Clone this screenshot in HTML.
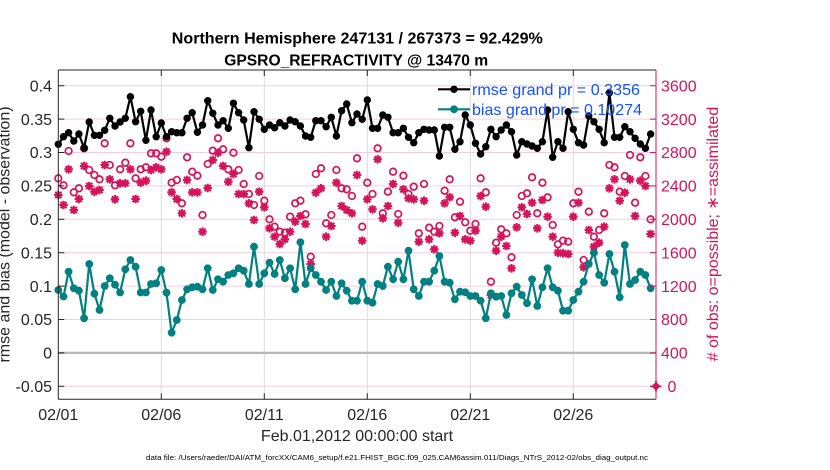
<!DOCTYPE html>
<html><head><meta charset="utf-8"><style>
html,body{margin:0;padding:0;background:#fff;}
svg{display:block;font-family:"Liberation Sans",Arial,sans-serif;}
</style></head><body>
<svg width="830" height="470" viewBox="0 0 830 470" xmlns="http://www.w3.org/2000/svg">
<defs>
<marker id="mb" markerUnits="userSpaceOnUse" viewBox="-6 -6 12 12" markerWidth="12" markerHeight="12" refX="0" refY="0" overflow="visible"><circle r="3.7" fill="#000"/></marker>
<marker id="mt" markerUnits="userSpaceOnUse" viewBox="-6 -6 12 12" markerWidth="12" markerHeight="12" refX="0" refY="0" overflow="visible"><circle r="3.9" fill="#008080"/></marker>
<marker id="mc" markerUnits="userSpaceOnUse" viewBox="-6 -6 12 12" markerWidth="12" markerHeight="12" refX="0" refY="0" overflow="visible"><circle r="3.3" fill="none" stroke="#d4145a" stroke-width="1.7"/></marker>
<marker id="ma" markerUnits="userSpaceOnUse" viewBox="-6 -6 12 12" markerWidth="12" markerHeight="12" refX="0" refY="0" overflow="visible"><path d="M-4.3,0H4.3M0,-4.3V4.3M-3.1,-3.1L3.1,3.1M-3.1,3.1L3.1,-3.1" stroke="#d4145a" stroke-width="2.1" fill="none"/></marker>
</defs>

<!-- horizontal grid (pink) -->
<g stroke="#f6cddd" stroke-width="1">
<line x1="58.3" y1="386.3" x2="656" y2="386.3"/>
<line x1="58.3" y1="319.5" x2="656" y2="319.5"/>
<line x1="58.3" y1="286.1" x2="656" y2="286.1"/>
<line x1="58.3" y1="252.7" x2="656" y2="252.7"/>
<line x1="58.3" y1="219.3" x2="656" y2="219.3"/>
<line x1="58.3" y1="185.9" x2="656" y2="185.9"/>
<line x1="58.3" y1="152.5" x2="656" y2="152.5"/>
<line x1="58.3" y1="119.1" x2="656" y2="119.1"/>
<line x1="58.3" y1="85.7" x2="656" y2="85.7"/>
</g>
<!-- vertical grid -->
<g stroke="#dadada" stroke-width="1">
<line x1="161.3" y1="70" x2="161.3" y2="399.3"/>
<line x1="264.3" y1="70" x2="264.3" y2="399.3"/>
<line x1="367.3" y1="70" x2="367.3" y2="399.3"/>
<line x1="470.3" y1="70" x2="470.3" y2="399.3"/>
<line x1="573.3" y1="70" x2="573.3" y2="399.3"/>
</g>
<!-- zero line -->
<line x1="58.3" y1="352.9" x2="656" y2="352.9" stroke="#b8b8b8" stroke-width="2.2"/>

<!-- possible (circles) -->
<polyline fill="none" stroke="none" marker-start="url(#mc)" marker-mid="url(#mc)" marker-end="url(#mc)" points="58.3,178.3 63.5,185.3 68.6,151 73.8,192.3 78.9,188.3 84.1,148.3 89.2,170 94.4,175 99.5,179.3 104.7,143.3 109.8,165 115,185.3 120.1,169.3 125.3,162.7 130.4,143.3 135.6,178.3 140.7,169.3 145.9,167.3 151,153.3 156.2,153.3 161.3,156.7 166.5,138.3 171.6,182.7 176.8,180 181.9,203.3 187.1,157.3 192.2,171.7 197.4,175.7 202.5,215 207.7,164 212.8,150.7 218,138.3 223.1,149.3 228.3,169.3 233.4,152.7 238.6,170 243.7,184 248.9,194 254,205 259.2,176 264.3,200.7 269.5,219.3 274.6,226.7 279.8,231.7 284.9,232.7 290.1,216.7 295.2,203.3 300.4,200.7 305.5,214.3 310.7,256.7 315.8,174 321,168.3 326.1,223.3 331.3,215 336.4,170 341.6,188.3 346.7,189.3 351.9,196 357,158.3 362.2,226.7 367.3,182.7 372.5,194 377.6,148.3 382.8,213.3 387.9,191.7 393.1,171.7 398.2,214 403.4,175.7 408.5,194 413.7,186.7 418.8,233.3 424,184 429.1,227.7 434.3,231.7 439.4,226 444.6,190.7 449.7,179.3 454.9,217.3 460,201.7 465.2,222.3 470.3,230.7 475.5,224 480.6,178.3 485.8,192.3 490.9,281.7 496.1,242.7 501.2,229.3 506.4,233.3 511.5,257.3 516.7,215 521.8,196 527,193.3 532.1,177.3 537.3,213.3 542.4,182.7 547.6,197.3 552.7,225 557.9,244.3 563,240.7 568.2,241.7 573.3,203.3 578.5,191.7 583.6,260 588.8,211.7 593.9,236.7 599.1,230 604.2,213.3 609.4,165 614.5,167.3 619.7,191.7 624.8,176 630,155 635.1,202.7 640.3,157.3 645.4,176 650.6,219.3"/>

<!-- assimilated (asterisks) -->
<polyline fill="none" stroke="none" marker-start="url(#ma)" marker-mid="url(#ma)" marker-end="url(#ma)" points="58.3,195 63.5,205 68.6,169.3 73.8,210 78.9,199 84.1,166 89.2,186 94.4,191.7 99.5,190 104.7,165 109.8,179.3 115,199.3 120.1,183.3 125.3,183.3 130.4,169.3 135.6,199 140.7,182.7 145.9,180.7 151,170 156.2,167.3 161.3,169.3 166.5,151.7 171.6,192.3 176.8,199 181.9,213.3 187.1,180 192.2,192.3 197.4,192.3 202.5,231.7 207.7,188 212.8,160 218,152.7 223.1,166 228.3,181.7 233.4,174 238.6,194 243.7,194 248.9,203.3 254,220 259.2,191.7 264.3,207.3 269.5,228.3 274.6,236.7 279.8,244 284.9,239.3 290.1,231.7 295.2,221.7 300.4,216 305.5,224 310.7,264 315.8,192.7 321,188.3 326.1,236.7 331.3,226 336.4,182.7 341.6,206 346.7,210 351.9,213.3 357,175 362.2,240.7 367.3,199.3 372.5,209.3 377.6,159.3 382.8,218.3 387.9,206 393.1,184 398.2,222.7 403.4,189.3 408.5,198.3 413.7,199.3 418.8,241.7 424,200.7 429.1,239.3 434.3,249.3 439.4,233.3 444.6,203.3 449.7,197.3 454.9,232.7 460,216 465.2,239.3 470.3,240.7 475.5,230.7 480.6,196 485.8,206.7 490.9,295 496.1,250.7 501.2,236.7 506.4,246 511.5,268.3 516.7,227.3 521.8,207.3 527,214 532.1,202.7 537.3,228.3 542.4,200 547.6,216.7 552.7,236.7 557.9,252.7 563,253.3 568.2,254 573.3,216.7 578.5,202.7 583.6,267.3 588.8,230 593.9,246.7 599.1,242.7 604.2,226.7 609.4,188.3 614.5,179.3 619.7,200.7 624.8,192.7 630,179.3 635.1,216 640.3,180.7 645.4,186 650.6,234"/>

<!-- bias (teal) -->
<polyline fill="none" stroke="#008080" stroke-width="2.2" stroke-linejoin="round" marker-start="url(#mt)" marker-mid="url(#mt)" marker-end="url(#mt)" points="58.3,290 63.5,296.5 68.6,271.7 73.8,288.3 78.9,290.7 84.1,318.3 89.2,264 94.4,293.7 99.5,310 104.7,286 109.8,278.3 115,284.7 120.1,292.5 125.3,269.3 130.4,260 135.6,266.7 140.7,292.5 145.9,292.5 151,284 156.2,283.3 161.3,270 166.5,292.7 171.6,332.7 176.8,320 181.9,300 187.1,289.3 192.2,287.3 197.4,286.7 202.5,289.3 207.7,268.3 212.8,290 218,279.3 223.1,281.7 228.3,275 233.4,273.3 238.6,268.3 243.7,270.7 248.9,284 254,246.7 259.2,284 264.3,273.3 269.5,262.7 274.6,274 279.8,260 284.9,278.3 290.1,268.3 295.2,289.3 300.4,242.3 305.5,284 310.7,268.3 315.8,275 321,281.7 326.1,290 331.3,281.7 336.4,296 341.6,283.3 346.7,290.7 351.9,300.7 357,300.7 362.2,281.7 367.3,300.7 372.5,302.7 377.6,284 382.8,286 387.9,266.7 393.1,279.3 398.2,261.7 403.4,279.3 408.5,250.7 413.7,289.3 418.8,296 424,281.7 429.1,281.7 434.3,270.7 439.4,256 444.6,281.7 449.7,282.7 454.9,299.3 460,291.7 465.2,292.3 470.3,296 475.5,296 480.6,300.7 485.8,318.3 490.9,293.3 496.1,296.7 501.2,296 506.4,315 511.5,293.3 516.7,286.7 521.8,295 527,303.3 532.1,279.3 537.3,306 542.4,287.3 547.6,268.3 552.7,287.3 557.9,290.7 563,310.7 568.2,310.7 573.3,300 578.5,291.7 583.6,281.7 588.8,264 593.9,252.7 599.1,275 604.2,282.7 609.4,254 614.5,271.7 619.7,297.3 624.8,245 630,284 635.1,280 640.3,271.7 645.4,275 650.6,288.3"/>

<!-- rmse (black) -->
<polyline fill="none" stroke="#000" stroke-width="2.2" stroke-linejoin="round" marker-start="url(#mb)" marker-mid="url(#mb)" marker-end="url(#mb)" points="58.3,144.3 63.5,136.7 68.6,132.7 73.8,141 78.9,134 84.1,148 89.2,122 94.4,135.3 99.5,135.3 104.7,130.3 109.8,118.3 115,126 120.1,122 125.3,118.3 130.4,96.7 135.6,121.7 140.7,111.3 145.9,140.3 151,110 156.2,136.7 161.3,123 166.5,136.7 171.6,131.7 176.8,132.7 181.9,132.7 187.1,118.3 192.2,112.7 197.4,132.3 202.5,125 207.7,100.7 212.8,113.3 218,125 223.1,120.7 228.3,128.3 233.4,103.3 238.6,112.7 243.7,120 248.9,147.7 254,111.7 259.2,119.3 264.3,129.3 269.5,125 274.6,127.7 279.8,122.7 284.9,126 290.1,120 295.2,121.7 300.4,126 305.5,136 310.7,137.3 315.8,120.7 321,120.7 326.1,126.7 331.3,117.3 336.4,136 341.6,110.7 346.7,104 351.9,122.7 357,114 362.2,119.3 367.3,100 372.5,128.3 377.6,128.3 382.8,115 387.9,117.3 393.1,132.7 398.2,132.7 403.4,128.3 408.5,137.3 413.7,142.7 418.8,132.7 424,129.3 429.1,130 434.3,130 439.4,156 444.6,127.3 449.7,127.3 454.9,149.3 460,141.7 465.2,115 470.3,125 475.5,143.3 480.6,154 485.8,146.7 490.9,129.3 496.1,136.7 501.2,130 506.4,125 511.5,131.7 516.7,155 521.8,141.7 527,144 532.1,146 537.3,148.3 542.4,141.7 547.6,110 552.7,157.3 557.9,141.7 563,148.3 568.2,111.7 573.3,129.3 578.5,142.7 583.6,145 588.8,116 593.9,121.7 599.1,129.3 604.2,142.7 609.4,92.7 614.5,137.3 619.7,137.3 624.8,126.7 630,131.7 635.1,138.3 640.3,144 645.4,148.3 650.6,134"/>

<!-- axes -->
<line x1="58.3" y1="70" x2="656" y2="70" stroke="#262626" stroke-width="1"/>
<line x1="58.3" y1="399.3" x2="656" y2="399.3" stroke="#262626" stroke-width="1"/>
<line x1="58.3" y1="70" x2="58.3" y2="399.3" stroke="#262626" stroke-width="1"/>
<line x1="656" y1="70" x2="656" y2="399.3" stroke="#d4145a" stroke-width="1"/>
<!-- left ticks -->
<g stroke="#262626" stroke-width="1">
<line x1="58.3" y1="386.3" x2="64.3" y2="386.3"/><line x1="58.3" y1="352.9" x2="64.3" y2="352.9"/>
<line x1="58.3" y1="319.5" x2="64.3" y2="319.5"/><line x1="58.3" y1="286.1" x2="64.3" y2="286.1"/>
<line x1="58.3" y1="252.7" x2="64.3" y2="252.7"/><line x1="58.3" y1="219.3" x2="64.3" y2="219.3"/>
<line x1="58.3" y1="185.9" x2="64.3" y2="185.9"/><line x1="58.3" y1="152.5" x2="64.3" y2="152.5"/>
<line x1="58.3" y1="119.1" x2="64.3" y2="119.1"/><line x1="58.3" y1="85.7" x2="64.3" y2="85.7"/>
<!-- bottom/top ticks -->
<line x1="161.3" y1="399.3" x2="161.3" y2="393.3"/><line x1="264.3" y1="399.3" x2="264.3" y2="393.3"/>
<line x1="367.3" y1="399.3" x2="367.3" y2="393.3"/><line x1="470.3" y1="399.3" x2="470.3" y2="393.3"/>
<line x1="573.3" y1="399.3" x2="573.3" y2="393.3"/>
<line x1="161.3" y1="70" x2="161.3" y2="76"/><line x1="264.3" y1="70" x2="264.3" y2="76"/>
<line x1="367.3" y1="70" x2="367.3" y2="76"/><line x1="470.3" y1="70" x2="470.3" y2="76"/>
<line x1="573.3" y1="70" x2="573.3" y2="76"/>
</g>
<!-- right ticks -->
<g stroke="#d4145a" stroke-width="1">
<line x1="656" y1="386.3" x2="650" y2="386.3"/><line x1="656" y1="352.9" x2="650" y2="352.9"/>
<line x1="656" y1="319.5" x2="650" y2="319.5"/><line x1="656" y1="286.1" x2="650" y2="286.1"/>
<line x1="656" y1="252.7" x2="650" y2="252.7"/><line x1="656" y1="219.3" x2="650" y2="219.3"/>
<line x1="656" y1="185.9" x2="650" y2="185.9"/><line x1="656" y1="152.5" x2="650" y2="152.5"/>
<line x1="656" y1="119.1" x2="650" y2="119.1"/><line x1="656" y1="85.7" x2="650" y2="85.7"/>
</g>
<!-- marker at right axis zero -->
<g transform="translate(656,386.3)">
<path d="M0,-4.5L4.5,0L0,4.5L-4.5,0Z" fill="#d4145a"/>
<path d="M-5.5,0H5.5M0,-5.5V5.5" stroke="#d4145a" stroke-width="1.6"/>
</g>

<!-- left tick labels -->
<g font-size="16" fill="#262626" text-anchor="end">
<text x="52" y="392">-0.05</text>
<text x="52" y="358.6">0</text>
<text x="52" y="325.2">0.05</text>
<text x="52" y="291.8">0.1</text>
<text x="52" y="258.4">0.15</text>
<text x="52" y="225">0.2</text>
<text x="52" y="191.6">0.25</text>
<text x="52" y="158.2">0.3</text>
<text x="52" y="124.8">0.35</text>
<text x="52" y="91.4">0.4</text>
</g>
<!-- right tick labels -->
<g font-size="16" fill="#d4145a" text-anchor="start">
<text x="672" y="392" text-anchor="middle">0</text>
<text x="661" y="358.6">400</text>
<text x="661" y="325.2">800</text>
<text x="661" y="291.8">1200</text>
<text x="661" y="258.4">1600</text>
<text x="661" y="225">2000</text>
<text x="661" y="191.6">2400</text>
<text x="661" y="158.2">2800</text>
<text x="661" y="124.8">3200</text>
<text x="661" y="91.4">3600</text>
</g>
<!-- x tick labels -->
<g font-size="16" fill="#262626" text-anchor="middle">
<text x="58.3" y="420">02/01</text>
<text x="161.3" y="420">02/06</text>
<text x="264.3" y="420">02/11</text>
<text x="367.3" y="420">02/16</text>
<text x="470.3" y="420">02/21</text>
<text x="573.3" y="420">02/26</text>
<text x="357" y="441">Feb.01,2012 00:00:00 start</text>
</g>
<text x="146" y="460" font-size="7.5" fill="#000" textLength="502" lengthAdjust="spacingAndGlyphs">data file: /Users/raeder/DAI/ATM_forcXX/CAM6_setup/f.e21.FHIST_BGC.f09_025.CAM6assim.011/Diags_NTrS_2012-02/obs_diag_output.nc</text>

<!-- axis labels -->
<text transform="translate(9.5,234.5) rotate(-90)" font-size="16" fill="#262626" text-anchor="middle">rmse and bias (model - observation)</text>
<text transform="translate(718,234) rotate(-90)" font-size="16" fill="#d4145a" text-anchor="middle">&#35; of obs: o=possible; &#8727;=assimilated</text>

<!-- title -->
<text x="357.3" y="43.3" font-size="16" font-weight="bold" fill="#000" text-anchor="middle" textLength="371" lengthAdjust="spacingAndGlyphs">Northern Hemisphere 247131 / 267373 = 92.429%</text>
<text x="356.2" y="65.5" font-size="16" font-weight="bold" fill="#000" text-anchor="middle" textLength="264" lengthAdjust="spacingAndGlyphs">GPSRO_REFRACTIVITY @ 13470 m</text>

<!-- legend -->
<line x1="438" y1="89.3" x2="470" y2="89.3" stroke="#000" stroke-width="2.2"/>
<circle cx="454" cy="89.3" r="3.7" fill="#000"/>
<line x1="438" y1="109.3" x2="470" y2="109.3" stroke="#008080" stroke-width="2.2"/>
<circle cx="454" cy="109.3" r="3.9" fill="#008080"/>
<text x="472" y="95" font-size="16" fill="#1450ff" textLength="168" lengthAdjust="spacingAndGlyphs">rmse grand pr = 0.3356</text>
<text x="472" y="115" font-size="16" fill="#1450ff" textLength="170" lengthAdjust="spacingAndGlyphs">bias grand pr = 0.10274</text>
</svg>
</body></html>
